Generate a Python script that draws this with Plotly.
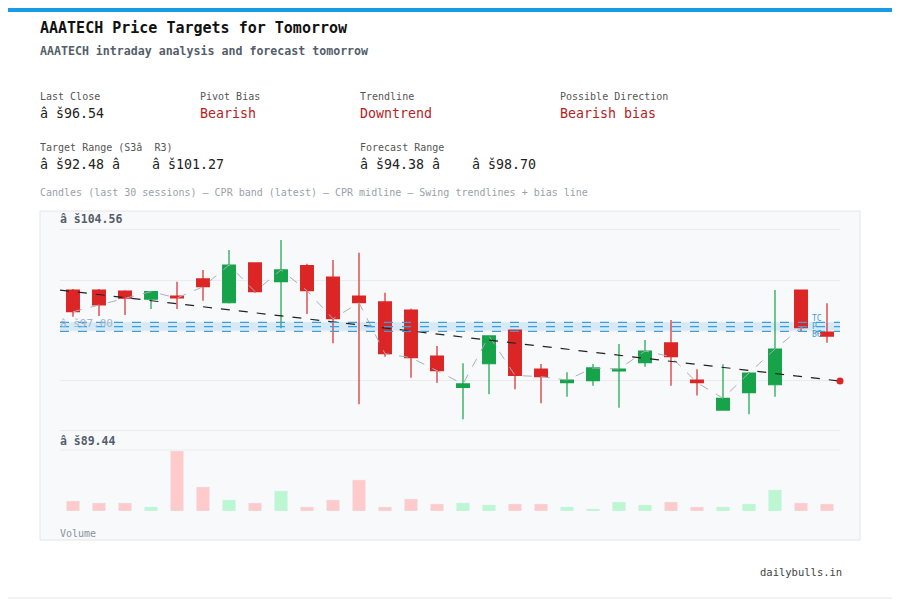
import plotly.graph_objects as go

# OHLC (30 sessions)
opens = [100.02, 100.02, 99.95, 99.34, 99.57, 100.86, 99.06, 102.07, 100.65, 101.86,
         101.00, 99.57, 99.12, 98.51, 95.03, 92.67, 94.45, 97.00, 94.05, 93.02,
         93.17, 93.90, 94.53, 96.02, 93.22, 90.95, 92.26, 92.86, 100.02, 96.85]
highs = [100.10, 100.10, 100.00, 99.95, 100.65, 101.54, 103.05, 102.10, 103.80, 102.00,
         102.29, 102.84, 99.82, 98.60, 95.79, 94.48, 96.60, 97.02, 94.43, 93.80,
         94.43, 95.94, 96.24, 97.76, 94.03, 94.41, 93.80, 100.02, 100.05, 99.02]
lows = [98.01, 98.06, 98.13, 98.59, 98.59, 99.22, 99.00, 99.82, 97.13, 98.21,
        95.99, 91.38, 94.98, 93.39, 93.02, 90.25, 92.14, 92.52, 91.46, 91.96,
        92.79, 91.13, 94.23, 92.79, 92.04, 90.90, 90.63, 91.96, 96.92, 96.04]
closes = [98.38, 98.89, 99.40, 99.90, 99.42, 100.27, 101.91, 99.90, 101.54, 99.97,
          97.85, 99.06, 95.21, 94.91, 93.92, 92.92, 96.55, 93.57, 93.47, 93.22,
          94.13, 94.05, 95.41, 94.98, 93.02, 91.84, 93.75, 95.56, 97.17, 96.54]
volumes = [10, 8, 8, 4, 60, 24, 11, 8, 20, 4, 11, 31, 4, 12, 7, 8, 6, 7, 7, 4,
           2, 9, 6, 9, 4, 4, 7, 21, 8, 7]

cpr_tc, cpr_p, cpr_bc = 97.58, 97.25, 96.90
trend_start, trend_end = 100.02, 93.14
grid_vals = [89.44, 93.22, 97.00, 100.78, 104.56]

FONT = "DejaVu Sans Mono"
RED, GREEN = "#dc2626", "#16a34a"
W, H = 900, 600
OFF = 8  # page body margin

idx = list(range(len(closes)))


def py(px):  # reference pixel row -> paper y
    return 1 - (px - OFF) / H


def pxx(px):
    return (px - OFF) / W


fig = go.Figure()

# CPR band
fig.add_shape(type="rect", xref="x", yref="y", x0=-0.5, x1=29.5, y0=cpr_bc, y1=cpr_tc,
              fillcolor="rgba(56,160,230,0.18)", line_width=0, layer="below")
for lv in (cpr_tc, cpr_p, cpr_bc):
    fig.add_shape(type="line", xref="x", yref="y", x0=-0.5, x1=29.5, y0=lv, y1=lv,
                  line=dict(color="#3aa0d8", width=1.3, dash="dash"))

fig.add_trace(go.Scatter(x=idx, y=closes, mode="lines",
                         line=dict(color="#a8b0ba", width=1, dash="dash"),
                         hoverinfo="skip", showlegend=False))

fig.add_trace(go.Candlestick(
    x=idx, open=opens, high=highs, low=lows, close=closes,
    increasing=dict(line=dict(color=GREEN, width=1.2), fillcolor=GREEN),
    decreasing=dict(line=dict(color=RED, width=1.2), fillcolor=RED),
    whiskerwidth=0, showlegend=False))

fig.add_trace(go.Scatter(x=[-0.5, 29.5], y=[trend_start, trend_end], mode="lines",
                         line=dict(color="#222", width=1.2, dash="dash"),
                         showlegend=False, hoverinfo="skip"))
fig.add_trace(go.Scatter(x=[29.5], y=[trend_end], mode="markers", cliponaxis=False,
                         marker=dict(color=RED, size=7), showlegend=False))

vol_colors = ["#bbf7d0" if c >= o else "#fecaca" for o, c in zip(opens, closes)]
fig.add_trace(go.Bar(x=idx, y=volumes, marker_color=vol_colors, width=0.5,
                     xaxis="x2", yaxis="y2", showlegend=False))

# frame
fig.add_shape(type="rect", xref="paper", yref="paper", x0=pxx(40), x1=pxx(860),
              y0=py(540), y1=py(211), fillcolor="#f8f9fb",
              line=dict(color="#e3e6ea", width=1), layer="below")
fig.add_shape(type="rect", xref="paper", yref="paper", x0=0, x1=1, y0=1 - 4 / H, y1=1,
              fillcolor="#1a9be6", line_width=0)
fig.add_shape(type="line", xref="paper", yref="paper", x0=0, x1=1, y0=py(598), y1=py(598),
              line=dict(color="#e3e6ea", width=1))
fig.add_shape(type="line", xref="paper", yref="paper", x0=pxx(60), x1=pxx(840),
              y0=py(450), y1=py(450), line=dict(color="#e8ebef", width=1))

ann = []


def txt(x, y, s, size, color, bold=False):
    ann.append(dict(x=pxx(x), y=py(y), xref="paper", yref="paper", text=f"<b>{s}</b>" if bold else s,
                    showarrow=False, xanchor="left", yanchor="middle",
                    font=dict(family=FONT, size=size, color=color)))


txt(38, 28, "AAATECH Price Targets for Tomorrow", 15, "#111", True)
txt(38, 51, "AAATECH intraday analysis and forecast tomorrow", 11.6, "#555e6b", True)
txt(38, 97, "Last Close", 10, "#555")
txt(38, 114, "â š96.54", 13.3, "#222")
txt(198, 97, "Pivot Bias", 10, "#555")
txt(198, 114, "Bearish", 13.3, "#b42323")
txt(358, 97, "Trendline", 10, "#555")
txt(358, 114, "Downtrend", 13.3, "#b42323")
txt(558, 97, "Possible Direction", 10, "#555")
txt(558, 114, "Bearish bias", 13.3, "#b42323")
txt(38, 147, "Target Range (S3â\u00a0\u00a0R3)", 10, "#555")
txt(38, 164, "â š92.48 â\u00a0\u00a0\u00a0 â š101.27", 13.3, "#222")
txt(358, 147, "Forecast Range", 10, "#555")
txt(358, 164, "â š94.38 â\u00a0\u00a0\u00a0 â š98.70", 13.3, "#222")
txt(38, 192, "Candles (last 30 sessions) — CPR band (latest) — CPR midline — Swing trendlines + bias line",
    10, "#9aa1aa")
txt(58, 219, "â š104.56", 11.5, "#555e6b", True)
txt(58, 441, "â š89.44", 11.5, "#555e6b", True)
txt(58, 323, "â š97.00", 11, "#9fb4c8")
txt(58, 533, "Volume", 10, "#8a929c")
txt(758, 572, "dailybulls.in", 10.5, "#444")
for lab, y in (("TC", 318), ("P", 326), ("BC", 334)):
    txt(810, y, lab, 8, "#3aa0d8")

fig.update_layout(
    width=W, height=H, margin=dict(l=0, r=0, t=0, b=0),
    paper_bgcolor="white", plot_bgcolor="rgba(0,0,0,0)",
    annotations=ann, bargap=0.5,
    xaxis=dict(domain=[pxx(60), pxx(840)], range=[-0.5, 29.5], visible=False,
               rangeslider=dict(visible=False), fixedrange=True),
    yaxis=dict(domain=[py(448), py(212)], range=[88.08, 105.92], tickvals=grid_vals,
               showticklabels=False, gridcolor="#e8ebef", zeroline=False),
    xaxis2=dict(domain=[pxx(60), pxx(840)], range=[-0.5, 29.5], visible=False,
                anchor="y2"),
    yaxis2=dict(domain=[py(511), py(448)], range=[0, 63], visible=False, anchor="x2"),
)

fig.write_html("out.html")
